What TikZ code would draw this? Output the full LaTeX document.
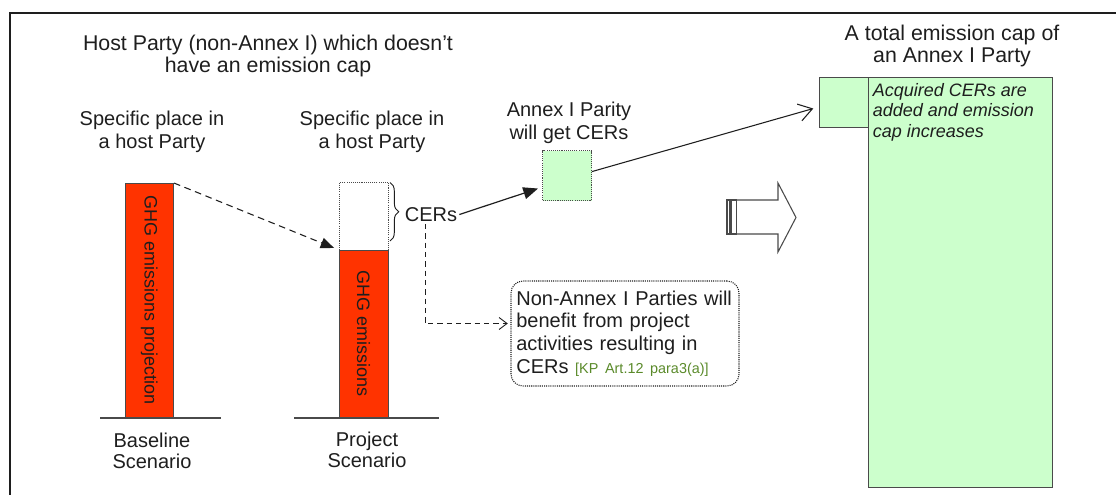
\documentclass[tikz,border=0pt]{standalone}
\usepackage{fontspec}
\setmainfont{Liberation Sans}
\usetikzlibrary{arrows.meta,decorations.pathreplacing,calc}
\definecolor{barred}{HTML}{FF3300}
\definecolor{capgreen}{HTML}{CCFFCC}
\definecolor{refgreen}{HTML}{5A8A2A}
\definecolor{ink}{HTML}{1E1E1E}
\definecolor{edge}{HTML}{4A4A4A}
\tikzset{
  txt/.style={inner sep=0pt, text=ink, align=center},
  big/.style={font=\fontsize{16}{16.4}\selectfont},
  mid/.style={font=\fontsize{15}{17}\selectfont},
  lab/.style={font=\fontsize{15}{15.8}\selectfont},
  rot/.style={font=\fontsize{13.5}{15}\selectfont, rotate=-90, inner sep=0pt, text=ink},
  redbar/.style={draw=edge, fill=barred, line width=0.7pt, inner sep=0pt, anchor=north west},
  dotbox/.style={draw=edge, dash pattern=on 0.8pt off 0.8pt, line width=0.7pt, inner sep=0pt, anchor=north west},
  capbox/.style={draw=edge, fill=capgreen, line width=0.8pt, inner sep=0pt, anchor=north west},
  ground/.style={draw=edge, line width=1.1pt},
  dasharrow/.style={draw=ink, line width=0.8pt, dash pattern=on 5pt off 3.5pt, -{Triangle[length=10pt,width=8pt]}},
  dashbarb/.style={draw=ink, line width=0.7pt, dash pattern=on 4pt off 3pt, -{Straight Barb[length=6pt,width=9pt]}},
  solidarrow/.style={draw=ink, line width=0.9pt, -{Triangle[length=11pt,width=9pt]}},
  openarrow/.style={draw=ink, line width=0.8pt, -{Straight Barb[length=10pt,width=13pt]}},
  hollow/.style={draw=edge, line width=0.8pt}
}
\begin{document}
\begin{tikzpicture}[x=0.75pt,y=-0.75pt]
\useasboundingbox (0,0) rectangle (1116,495);
% frame
\draw[ink, line width=1pt] (10,495) -- (10,13) -- (1116,13);

% titles
\node[txt,big] (hosttitle) at (268,56) {Host Party (non-Annex I) which doesn't\\have an emission cap};
\node[txt,mid] (place1) at (152,131.5) {Specific place in\\a host Party};
\node[txt,mid] (place2) at (372,131.5) {Specific place in\\a host Party};
\node[txt,big] (captitle) at (952,46) {A total emission cap of\\an Annex I Party};

% baseline bar
\node[redbar, minimum width=36pt, minimum height=176.25pt] (blbar) at (125,183) {};
\node[rot] (bltext) at (149.3,300.5) {GHG emissions projection};
\draw[ground] (100,418) coordinate (g1a) -- (221,418) coordinate (g1b);
\node[txt,lab] (bllabel) at (152,450.5) {Baseline\\Scenario};

% project bar
\node[dotbox, minimum width=36.75pt, minimum height=51pt] (cerbox) at (339,182) {};
\node[redbar, minimum width=36.75pt, minimum height=126pt] (prbar) at (339,250) {};
\node[rot] (prtext) at (363.5,334) {GHG emissions};
\draw[ground] (294,418) coordinate (g2a) -- (439,418) coordinate (g2b);
\node[txt,lab] (prlabel) at (367,450) {Project\\Scenario};

% baseline -> project dashed arrow
\draw[dasharrow, shorten >=4pt] (blbar.north east) -- (prbar.north west);

% brace + CERs
\coordinate (bra) at (390,182.5);
\coordinate (brb) at (390,241);
\draw[ink, line width=0.7pt, decorate, decoration={brace, amplitude=6.5pt}] (bra) -- (brb);
\node[txt,mid, inner sep=1.5pt] (cers) at (431,214.5) {CERs};

% Annex I green square
\node[txt,mid] (annexlabel) at (569,122.5) {Annex I Parity\\will get CERs};
\node[capbox, dash pattern=on 0.8pt off 0.8pt, minimum width=36.75pt, minimum height=37.5pt] (greensq) at (542,150) {};
\draw[solidarrow] (cers.east) -- ([xshift=-3pt,yshift=-9.75pt]greensq.west);

% non-Annex box
\node[draw=ink, rounded corners=9pt, dash pattern=on 0.8pt off 0.8pt, line width=0.8pt,
      minimum width=171pt, minimum height=78.75pt, text width=163pt, align=left,
      inner xsep=4pt, inner ysep=0pt, text=ink, font=\fontsize{15}{17}\selectfont]
      (nonannex) at (625,333.5)
      {Non-Annex I Parties will\\benefit from project\\activities resulting in\\CERs {\color{refgreen}\fontsize{10.8}{12}\selectfont [KP Art.12 para3(a)]}};
\draw[dashbarb, shorten >=2pt] ([xshift=-4.5pt]cers.south) |- ([yshift=7.5pt]nonannex.west);

% hollow big arrow
\draw[hollow] (727,200) rectangle (730,234);
\draw[hollow] (731,200) rectangle (736.5,234);
\draw[hollow, line join=miter] (737,200) -- (778,200) -- (778,183) -- (796,217.5) -- (778,252) -- (778,234) -- (737,234);

% total cap
\node[capbox, minimum width=138pt, minimum height=307.5pt] (bigcap) at (868,77) {};
\node[capbox, minimum width=36.75pt, minimum height=37.5pt] (capsq) at (819.3,77) {};
\node[txt, align=left, anchor=west, font=\fontsize{13.5}{15.4}\selectfont\itshape] (captext) at (872.5,112.3) {Acquired CERs are\\added and emission\\cap increases};
\draw[openarrow] ([yshift=3pt]greensq.east) -- ([xshift=-4.5pt,yshift=-4.5pt]capsq.west);
\end{tikzpicture}
\end{document}
